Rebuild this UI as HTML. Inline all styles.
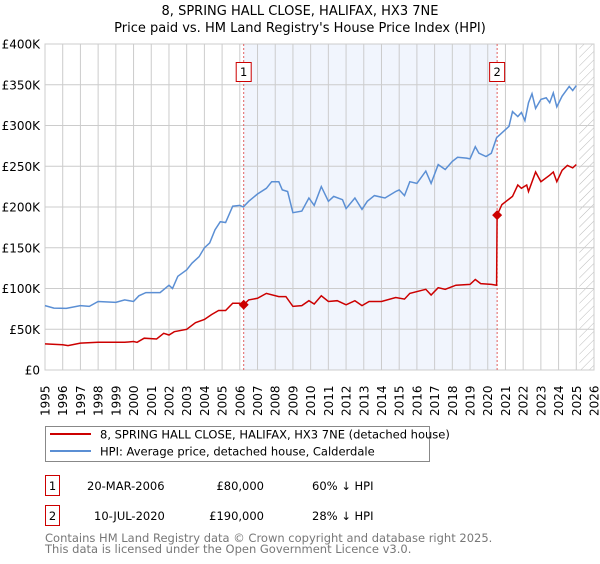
<!DOCTYPE html>
<html><head><meta charset="utf-8"><style>
body{margin:0;background:#fff;font-family:"DejaVu Sans","Liberation Sans",sans-serif;}
svg text{font-family:"DejaVu Sans","Liberation Sans",sans-serif;}
</style></head><body>
<svg id="chart" width="600" height="560" viewBox="0 0 600 560" xmlns="http://www.w3.org/2000/svg">
<defs><pattern id="hatch" width="6" height="6" patternUnits="userSpaceOnUse" patternTransform="rotate(45)"><line x1="0" y1="0" x2="0" y2="6" stroke="#bbb" stroke-width="1"/></pattern></defs>
<text x="300" y="15" text-anchor="middle" font-size="13">8, SPRING HALL CLOSE, HALIFAX, HX3 7NE</text>
<text x="300" y="32" text-anchor="middle" font-size="13">Price paid vs. HM Land Registry's House Price Index (HPI)</text>
<g id="grid"></g><g id="marks"></g>
<rect x="45.5" y="426.5" width="384" height="35" fill="#fff" stroke="#888"/>
<line x1="50" y1="434" x2="91" y2="434" stroke="#cc0000" stroke-width="2"/>
<text x="100" y="438.5" font-size="11.5">8, SPRING HALL CLOSE, HALIFAX, HX3 7NE (detached house)</text>
<line x1="50" y1="451" x2="91" y2="451" stroke="#5b8fd4" stroke-width="2"/>
<text x="100" y="455.5" font-size="11.5">HPI: Average price, detached house, Calderdale</text>
<g font-size="11.5">
<rect x="45.5" y="475.5" width="14" height="20" fill="#fff" stroke="#cc0000"/><text x="52.5" y="490" text-anchor="middle">1</text>
<text x="87" y="490">20-MAR-2006</text><text x="264" y="490" text-anchor="end">£80,000</text><text x="312" y="490">60% ↓ HPI</text></g>
<g font-size="11.5">
<rect x="45.5" y="505.5" width="14" height="20" fill="#fff" stroke="#cc0000"/><text x="52.5" y="520" text-anchor="middle">2</text>
<text x="94" y="520">10-JUL-2020</text><text x="264" y="520" text-anchor="end">£190,000</text><text x="312" y="520">28% ↓ HPI</text></g>
<text x="45" y="542" font-size="11.5" fill="#777">Contains HM Land Registry data © Crown copyright and database right 2025.</text>
<text x="45" y="553" font-size="11.5" fill="#777">This data is licensed under the Open Government Licence v3.0.</text>
</svg>
<script>
const yTicks=[0,50,100,150,200,250,300,350,400];
const yTickLabels=["£0","£50K","£100K","£150K","£200K","£250K","£300K","£350K","£400K"];
const years=[1995,1996,1997,1998,1999,2000,2001,2002,2003,2004,2005,2006,2007,2008,2009,2010,2011,2012,2013,2014,2015,2016,2017,2018,2019,2020,2021,2022,2023,2024,2025,2026];
const hpiT=[1995,1995.5,1996.2,1997,1997.5,1998,1999,1999.5,2000,2000.3,2000.7,2001.5,2002,2002.2,2002.5,2003,2003.3,2003.7,2004,2004.3,2004.6,2004.9,2005.2,2005.6,2006,2006.2,2006.5,2007,2007.5,2007.8,2008.2,2008.4,2008.7,2009,2009.5,2009.9,2010.2,2010.6,2011,2011.3,2011.8,2012,2012.5,2012.9,2013.2,2013.6,2014.2,2014.8,2015,2015.3,2015.6,2016,2016.5,2016.8,2017.2,2017.6,2018,2018.3,2018.8,2019,2019.3,2019.5,2019.9,2020.2,2020.5,2021,2021.2,2021.4,2021.7,2021.9,2022.1,2022.3,2022.5,2022.7,2023,2023.3,2023.5,2023.7,2023.9,2024.2,2024.6,2024.8,2025];
const hpiV=[79,76,75.6,79,78,84,83,86,84,91,95,95,104,100,115,123,131,139,150,156,172,182,181,201,202,200,207,216,223,231,231,221,219,193,195,211,202,225,207,213,209,198,211,197,207,214,211,219,221,214,231,229,244,229,252,246,256,261,260,259,274,266,262,266,285,295,299,317,311,316,306,328,339,321,332,334,328,340,323,336,348,343,349];
const ppT=[1995,1996,1996.3,1997,1998,1999.5,2000,2000.2,2000.6,2001.3,2001.7,2002,2002.3,2003,2003.5,2004,2004.4,2004.8,2005.2,2005.6,2006,2006.22,2006.5,2007,2007.5,2008.2,2008.6,2009,2009.5,2009.9,2010.2,2010.6,2011,2011.5,2012,2012.5,2012.9,2013.3,2014,2014.8,2015.3,2015.6,2016.5,2016.8,2017.2,2017.6,2018.2,2019,2019.3,2019.6,2020.2,2020.5,2020.53,2020.8,2021.4,2021.7,2021.9,2022.2,2022.3,2022.7,2023,2023.5,2023.7,2023.9,2024.2,2024.5,2024.8,2025];
const ppV=[32,31,30,33,34,34,35,34,39,38,45,43,47,50,58,62,68,73,73,82,82,80,86,88,94,90,90,78,79,85,81,91,84,85,80,85,79,84,84,89,87,94,99,92,101,99,104,105,111,106,105,104,190,203,213,227,223,227,219,243,231,239,243,231,245,251,248,252];
const saleT=[2006.22,2020.53];
const saleV=[80,190];
const saleLabels=["1","2"];
const X0=45,X1=594,Y0=370,Y1=44;
const xs=t=>X0+(t-1995)/(2026-1995)*(X1-X0);
const ys=v=>Y0-v/400*(Y0-Y1);
const NS="http://www.w3.org/2000/svg";
const grid=document.getElementById('grid'),marks=document.getElementById('marks');
function mk(tag,attrs,parent){const e=document.createElementNS(NS,tag);for(const k in attrs)e.setAttribute(k,attrs[k]);parent.appendChild(e);return e;}
const shade=mk('rect',{x:xs(saleT[0]),y:Y1,width:xs(saleT[1])-xs(saleT[0]),height:Y0-Y1,fill:'#eef3fc',opacity:0.8},grid);


const hat=mk('rect',{x:xs(2025.17),y:Y1,width:X1-xs(2025.17),height:Y0-Y1,fill:'url(#hatch)'},grid);


years.forEach(y=>{const x=xs(y);mk('line',{x1:x,x2:x,y1:Y1,y2:Y0,stroke:'#ccc'},grid);
const t=mk('text',{x:0,y:0,'font-size':12,transform:`translate(${x+4.5},${Y0+46}) rotate(-90)`},grid);t.textContent=y;

});
yTicks.forEach((v,i)=>{const y=ys(v);mk('line',{x1:X0,x2:X1,y1:y,y2:y,stroke:'#ccc'},grid);
const t=mk('text',{x:X0-5,y:y+4.5,'text-anchor':'end','font-size':12},grid);t.textContent=yTickLabels[i];

});
saleT.forEach((t,i)=>{const x=xs(t);mk('line',{x1:x,x2:x,y1:Y1,y2:Y0,stroke:'#e06060','stroke-dasharray':'2,2'},marks);
mk('rect',{x:x-7.5,y:62.5,width:15,height:19,fill:'#fff',stroke:'#cc0000'},marks);
const tx=mk('text',{x:x,y:76,'text-anchor':'middle','font-size':11.5},marks);tx.textContent=saleLabels[i];

});
const path=(T,V)=>T.map((t,i)=>(i?'L':'M')+xs(t).toFixed(1)+','+ys(V[i]).toFixed(1)).join('');
const h=mk('path',{d:path(hpiT,hpiV),fill:'none',stroke:'#5b8fd4','stroke-width':1.5},marks);


const p=mk('path',{d:path(ppT,ppV),fill:'none',stroke:'#cc0000','stroke-width':1.5},marks);


saleT.forEach((t,i)=>{const x=xs(t),y=ys(saleV[i]);
const d=mk('path',{d:`M${x},${y-5}L${x+5},${y}L${x},${y+5}L${x-5},${y}Z`,fill:'#cc0000'},marks);

});
mk('rect',{x:X0,y:Y1,width:X1-X0,height:Y0-Y1,fill:'none',stroke:'#ccc'},grid);
</script>
</body></html>
